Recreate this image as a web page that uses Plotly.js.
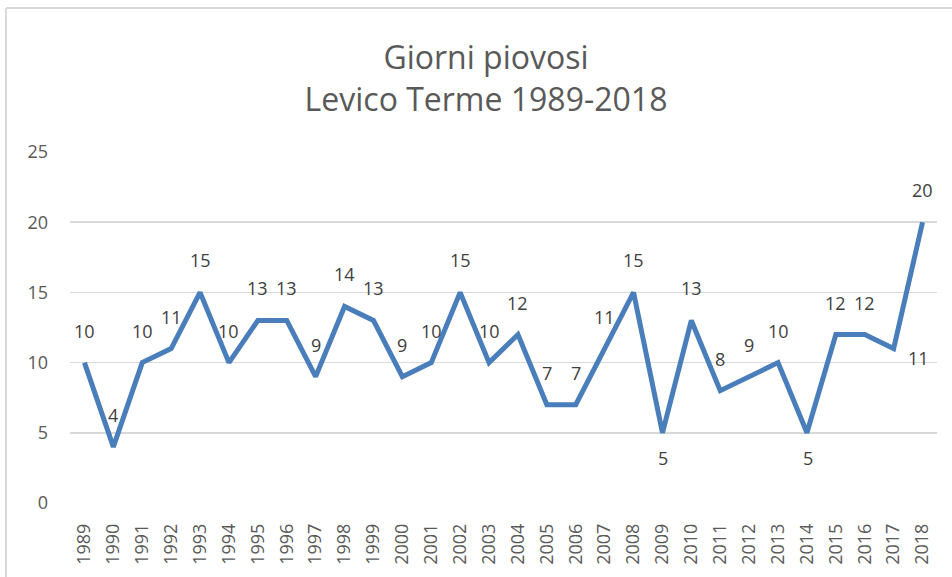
<!DOCTYPE html>
<html>
<head>
<meta charset="utf-8">
<script src="https://cdn.plot.ly/plotly-3.0.1.min.js"></script>
<style>html,body{margin:0;padding:0;background:#fff;}#chart{width:952px;height:577px;}</style>
</head>
<body>
<div id="chart"></div>
<script>
// Data
const years = ['1989','1990','1991','1992','1993','1994','1995','1996','1997','1998',
  '1999','2000','2001','2002','2003','2004','2005','2006','2007','2008',
  '2009','2010','2011','2012','2013','2014','2015','2016','2017','2018'];
const rainyDays = [10,4,10,11,15,10,13,13,9,14,13,9,10,15,10,12,7,7,11,15,5,13,8,9,10,5,12,12,11,20];
const yTicks = [0,5,10,15,20,25];
const titleLines = ['Giorni piovosi','Levico Terme 1989-2018'];
// Label placement per point
const labelPos = ['a','a','a','a','a','a','a','a','a','a','a','a','a','a','a','a','a','a','a','a',
  'b','a','a','a','a','b','a','a','r','a'];

const offsets = {a:{x:0,y:32}, b:{x:1,y:-25}, r:{x:25,y:-9}};
const font = 'Open Sans, sans-serif';

// category axis: position each label at its category index
const annotations = years.map((yr,i)=>({
  x: i, y: rainyDays[i], xref:'x', yref:'y', text: String(rainyDays[i]),
  showarrow:false, xshift: offsets[labelPos[i]].x, yshift: offsets[labelPos[i]].y,
  xanchor:'center', yanchor:'middle',
  font:{family:font, size:18, color:'#404040'}
}));

const trace = {
  x: years, y: rainyDays, type:'scatter', mode:'lines',
  line:{color:'#4A7EBB', width:5, shape:'linear'},
  hoverinfo:'x+y'
};

const border = '#d9d9d9';
const layout = {
  width:952, height:577,
  margin:{l:70, r:15, t:152, b:74, pad:0},
  paper_bgcolor:'#ffffff', plot_bgcolor:'#ffffff',
  showlegend:false,
  title:{text: titleLines.join('<br>'), x:486/952, xref:'container', xanchor:'center',
    y:1-69/577, yref:'container', yanchor:'middle',
    font:{family:font, size:32, color:'#595959'}},
  xaxis:{type:'category', range:[-0.5, 29.5], tickangle:-90,
    tickfont:{family:font, size:18, color:'#595959'},
    showgrid:false, zeroline:false, showline:false, ticks:'', ticklabelstandoff:16,
    fixedrange:true},
  yaxis:{range:[0,25], tickvals:yTicks, ticktext:yTicks.map(String),
    tickfont:{family:font, size:18, color:'#595959'},
    showgrid:true, gridcolor:'#d9d9d9', gridwidth:1.5, zeroline:false, showline:false,
    ticks:'', ticklabelstandoff:21, fixedrange:true},
  annotations: annotations,
  shapes:[
    {type:'line', xref:'paper', yref:'paper', x0:-64/867, x1:-64/867, y0:-0.3, y1:1+144/351,
     line:{color:border, width:2}},
    {type:'line', xref:'paper', yref:'paper', x0:-64/867, x1:1.1, y0:1+144/351, y1:1+144/351,
     line:{color:border, width:2}}
  ]
};

Plotly.newPlot('chart', [trace], layout, {displayModeBar:false, staticPlot:true});
</script>
</body>
</html>
